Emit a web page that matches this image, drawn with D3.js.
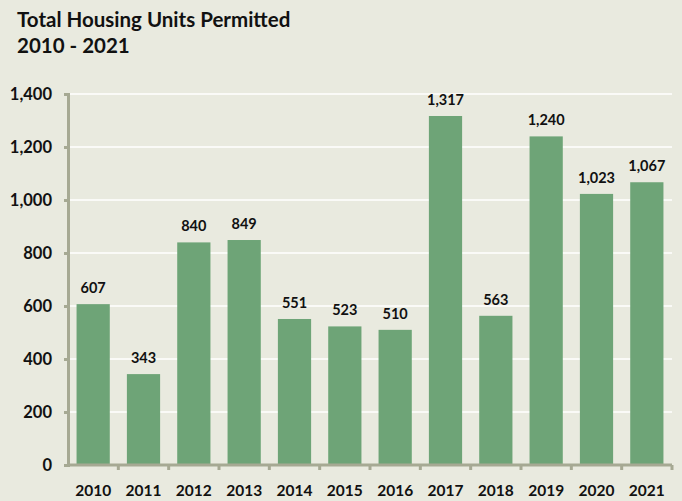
<!DOCTYPE html>
<html>
<head>
<meta charset="utf-8">
<script src="https://cdn.jsdelivr.net/npm/d3@7"></script>
<style>
  body { margin: 0; background: #e9eadf; }
  svg text { font-family: Lato, "Open Sans", sans-serif; font-weight: bold; fill: #111; }
</style>
</head>
<body>
<svg id="chart" width="682" height="501"></svg>
<script>
const years = ["2010", "2011", "2012", "2013", "2014", "2015", "2016", "2017", "2018", "2019", "2020", "2021"];
const permits = [607, 343, 840, 849, 551, 523, 510, 1317, 563, 1240, 1023, 1067];
const yTicks = [0, 200, 400, 600, 800, 1000, 1200, 1400];

const svg = d3.select("#chart");
const plotLeft = 68, plotRight = 672, plotTop = 94, plotBottom = 465;

svg.append("rect").attr("width", 682).attr("height", 501).attr("fill", "#e9eadf");

// title
svg.append("text").attr("x", 17).attr("y", 27).style("font-size", "20.5px").text("Total Housing Units Permitted");
svg.append("text").attr("x", 17).attr("y", 53).style("font-size", "20.5px").text("2010 - 2021");

const x = d3.scaleBand().domain(years).range([plotLeft, plotRight]).paddingInner(0.34).paddingOuter(0.17);
const y = d3.scaleLinear().domain([0, 1400]).range([plotBottom, plotTop]);

// gridlines
svg.append("g").selectAll("line").data(yTicks.slice(1)).join("line")
  .attr("x1", plotLeft).attr("x2", plotRight)
  .attr("y1", d => y(d)).attr("y2", d => y(d))
  .attr("stroke", "#fff").attr("stroke-width", 1.5);

// bars
svg.append("g").selectAll("rect").data(permits).join("rect")
  .attr("x", (d, i) => x(years[i]))
  .attr("y", d => y(d))
  .attr("width", x.bandwidth())
  .attr("height", d => y(0) - y(d))
  .attr("fill", "#6ea477");

// value labels
svg.append("g").selectAll("text").data(permits).join("text")
  .attr("x", (d, i) => x(years[i]) + x.bandwidth() / 2)
  .attr("y", d => y(d) - 11)
  .attr("text-anchor", "middle")
  .style("font-size", "14.5px")
  .text(d => d3.format(",")(d));

// y axis
const yAxis = svg.append("g").attr("transform", `translate(${plotLeft},0)`)
  .call(d3.axisLeft(y).tickValues(yTicks).tickFormat(d3.format(",")).tickSize(4).tickPadding(12));
yAxis.select(".domain").attr("stroke", "#a6a993").attr("stroke-width", 3);
yAxis.selectAll(".tick line").attr("stroke", "#a6a993").attr("stroke-width", 3);
yAxis.selectAll(".tick text").style("font-size", "16.5px").attr("fill", "#111");

// x axis, ticks on category boundaries
const xb = d3.scaleLinear().domain([0, years.length]).range([plotLeft, plotRight]);
svg.append("line").attr("x1", plotLeft).attr("x2", plotRight).attr("y1", plotBottom).attr("y2", plotBottom)
  .attr("stroke", "#a6a993").attr("stroke-width", 3);
svg.append("g").selectAll("line").data(d3.range(1, years.length + 1)).join("line")
  .attr("x1", d => xb(d)).attr("x2", d => xb(d))
  .attr("y1", plotBottom).attr("y2", plotBottom + 5)
  .attr("stroke", "#a6a993").attr("stroke-width", 3);
svg.append("g").selectAll("text").data(years).join("text")
  .attr("x", d => x(d) + x.bandwidth() / 2)
  .attr("y", 496)
  .attr("text-anchor", "middle")
  .style("font-size", "15.5px")
  .text(d => d);
</script>
</body>
</html>
